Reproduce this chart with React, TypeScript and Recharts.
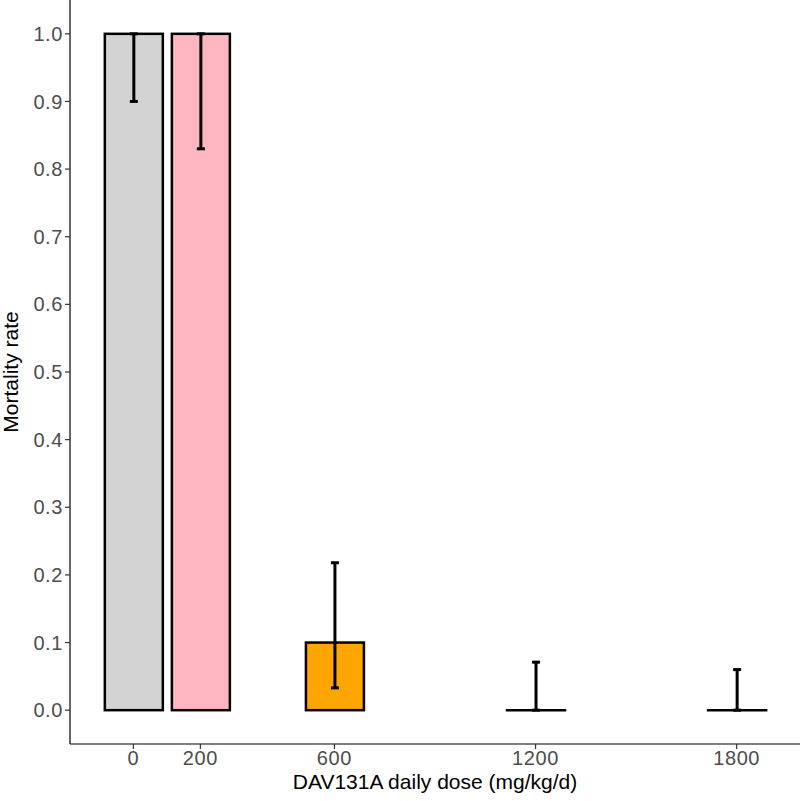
import { ComposedChart, Bar, XAxis, YAxis, ErrorBar } from 'recharts';

const doses = [0, 200, 600, 1200, 1800];
const rates = [1.0, 1.0, 0.1, 0, 0];
const lowerCI = [0.9, 0.83, 0.033, 0, 0];
const upperCI = [1.0, 1.0, 0.218, 0.071, 0.06];
const barColors = ['#D3D3D3', '#FFB6C1', '#FFA500', '#FFFFFF', '#FFFFFF'];
const xTicks = [0, 200, 600, 1200, 1800];
const yTicks = [0, 0.1, 0.2, 0.3, 0.4, 0.5, 0.6, 0.7, 0.8, 0.9, 1.0];

const data = doses.map((dose, i) => ({
  dose,
  rate: rates[i],
  err: [rates[i] - lowerCI[i], upperCI[i] - rates[i]],
}));

const FONT = '"Liberation Sans", Arial, sans-serif';

// bars outlined in black; a zero-height bar is just a flat line
const BarShape = (props: any) => {
  const { x, y, width, height, index } = props;
  if (!height || Math.abs(height) < 0.5) {
    return (
      <line x1={x} x2={x + width} y1={y} y2={y} stroke="#000" strokeWidth={2.5} strokeLinecap="square" />
    );
  }
  return (
    <rect x={x} y={y} width={width} height={height} fill={barColors[index]} stroke="#000" strokeWidth={2.5} />
  );
};

const YTitle = (props: any) => {
  const { viewBox } = props;
  const cy = viewBox.y + viewBox.height / 2;
  return (
    <text
      x={18}
      y={cy}
      transform={`rotate(-90, 18, ${cy})`}
      textAnchor="middle"
      fontFamily={FONT}
      fontSize={21}
      fill="#000"
    >
      Mortality rate
    </text>
  );
};

const XTitle = (props: any) => {
  const { viewBox } = props;
  const cx = viewBox.x + viewBox.width / 2;
  return (
    <text x={cx} y={789} textAnchor="middle" fontFamily={FONT} fontSize={21} fill="#000">
      DAV131A daily dose (mg/kg/d)
    </text>
  );
};

const tickStyle = { fill: '#4D4D4D', fontSize: 20, fontFamily: FONT, letterSpacing: 0.6 };

export default function App() {
  return (
    <div style={{ position: 'absolute', left: 0, top: 0, background: '#fff' }}>
      <ComposedChart width={800} height={801} data={data} margin={{ top: 0, right: 0, bottom: 0, left: 0 }}>
        <XAxis
          dataKey="dose"
          type="number"
          domain={[-189, 1989]}
          allowDataOverflow
          ticks={xTicks}
          height={57}
          tickSize={5}
          tickMargin={2}
          tick={tickStyle}
          axisLine={{ stroke: '#000', strokeWidth: 1.2 }}
          tickLine={{ stroke: '#333', strokeWidth: 1.2 }}
          label={<XTitle />}
        />
        <YAxis
          type="number"
          domain={[-0.05, 1.05]}
          allowDataOverflow
          ticks={yTicks}
          width={70}
          tickSize={5}
          tickMargin={2}
          tickFormatter={(v: number) => v.toFixed(1)}
          tick={tickStyle}
          axisLine={{ stroke: '#000', strokeWidth: 1.2 }}
          tickLine={{ stroke: '#333', strokeWidth: 1.2 }}
          label={<YTitle />}
        />
        <Bar dataKey="rate" barSize={58} shape={<BarShape />} isAnimationActive={false}>
          <ErrorBar dataKey="err" direction="y" width={4} stroke="#000" strokeWidth={3} isAnimationActive={false} />
        </Bar>
      </ComposedChart>
    </div>
  );
}
